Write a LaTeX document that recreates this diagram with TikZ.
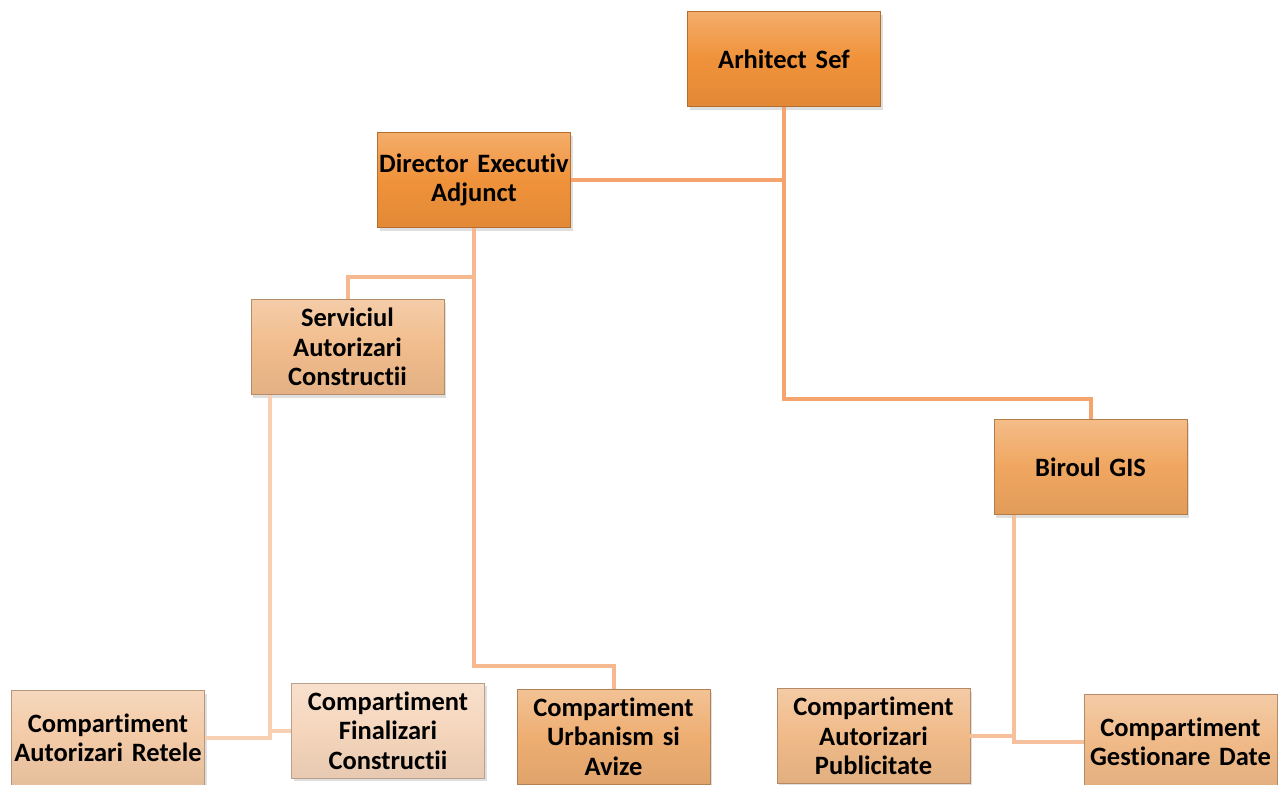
\documentclass[tikz,border=0pt]{standalone}
\usepackage{fontspec}
\setmainfont{Carlito}[Ligatures=NoCommon]
\usetikzlibrary{shadows,calc}
\definecolor{cA}{HTML}{F0923A}
\definecolor{cG}{HTML}{F0A660}
\definecolor{cS}{HTML}{F1BC8C}
\definecolor{cU}{HTML}{EEAE72}
\definecolor{cP}{HTML}{F0BA88}
\definecolor{cR}{HTML}{F3CAA6}
\definecolor{cF}{HTML}{F5D6BC}
\definecolor{lA}{HTML}{F4A46C}
\definecolor{lD}{HTML}{F6B88E}
\definecolor{lS}{HTML}{F9D0B3}
\definecolor{lG}{HTML}{F7C09D}
\tikzset{
  orgbox/.style={rectangle, draw=#1!75!black, line width=0.8pt,
    top color=#1!75!white, bottom color=#1!94!black, middle color=#1,
    minimum width=193pt, minimum height=95pt, text width=192pt, align=center,
    font=\fontsize{26.5}{29.5}\selectfont\bfseries, text=black, inner sep=0pt,
    drop shadow={opacity=0.25, shadow xshift=2pt, shadow yshift=-3pt}},
  conn/.style={line width=4pt, draw=#1}
}
\begin{document}
\begin{tikzpicture}[x=1pt,y=-1pt]
\useasboundingbox (0,0) rectangle (1278,785);
\clip (0,0) rectangle (1278,785);
\coordinate (sv) at (270,395);
\coordinate (gv) at (1014,515);
\coordinate (Dj) at (474,277);
\coordinate (Aj) at (784,399);
% nodes
\node[orgbox=cA] (A) at (784,59) {Arhitect Sef};
\node[orgbox=cA] (D) at (474,180) {Director Executiv\\Adjunct};
\node[orgbox=cS] (S) at (347.5,347) {Serviciul\\Autorizari\\Constructii};
\node[orgbox=cG] (G) at (1090.5,467) {Biroul GIS};
\node[orgbox=cR] (R) at (108,738) {Compartiment\\Autorizari Retele};
\node[orgbox=cF] (F) at (388,730.5) {Compartiment\\Finalizari\\Constructii};
\node[orgbox=cU] (U) at (613.5,736.5) {Compartiment\\Urbanism si\\Avize};
\node[orgbox=cP] (P) at (873.5,736) {Compartiment\\Autorizari\\Publicitate};
\node[orgbox=cP] (Gd) at (1180.5,742) {Compartiment\\Gestionare Date};
% connectors
\draw[conn=lA] (A.south) -- (Aj) -| (G.north);
\draw[conn=lA] (D.east) -- (D.east -| A.south);
\draw[conn=lD] (D.south) -- (D.south |- 0,666) -| (U.north);
\draw[conn=lD] (Dj) -| (S.north);
\draw[conn=lS] (sv) |- (R.east);
\draw[conn=lS] (sv |- F.west) -- (F.west);
\draw[conn=lG] (gv) |- (Gd.west);
\draw[conn=lG] (gv |- P.east) -- (P.east);
\end{tikzpicture}
\end{document}
